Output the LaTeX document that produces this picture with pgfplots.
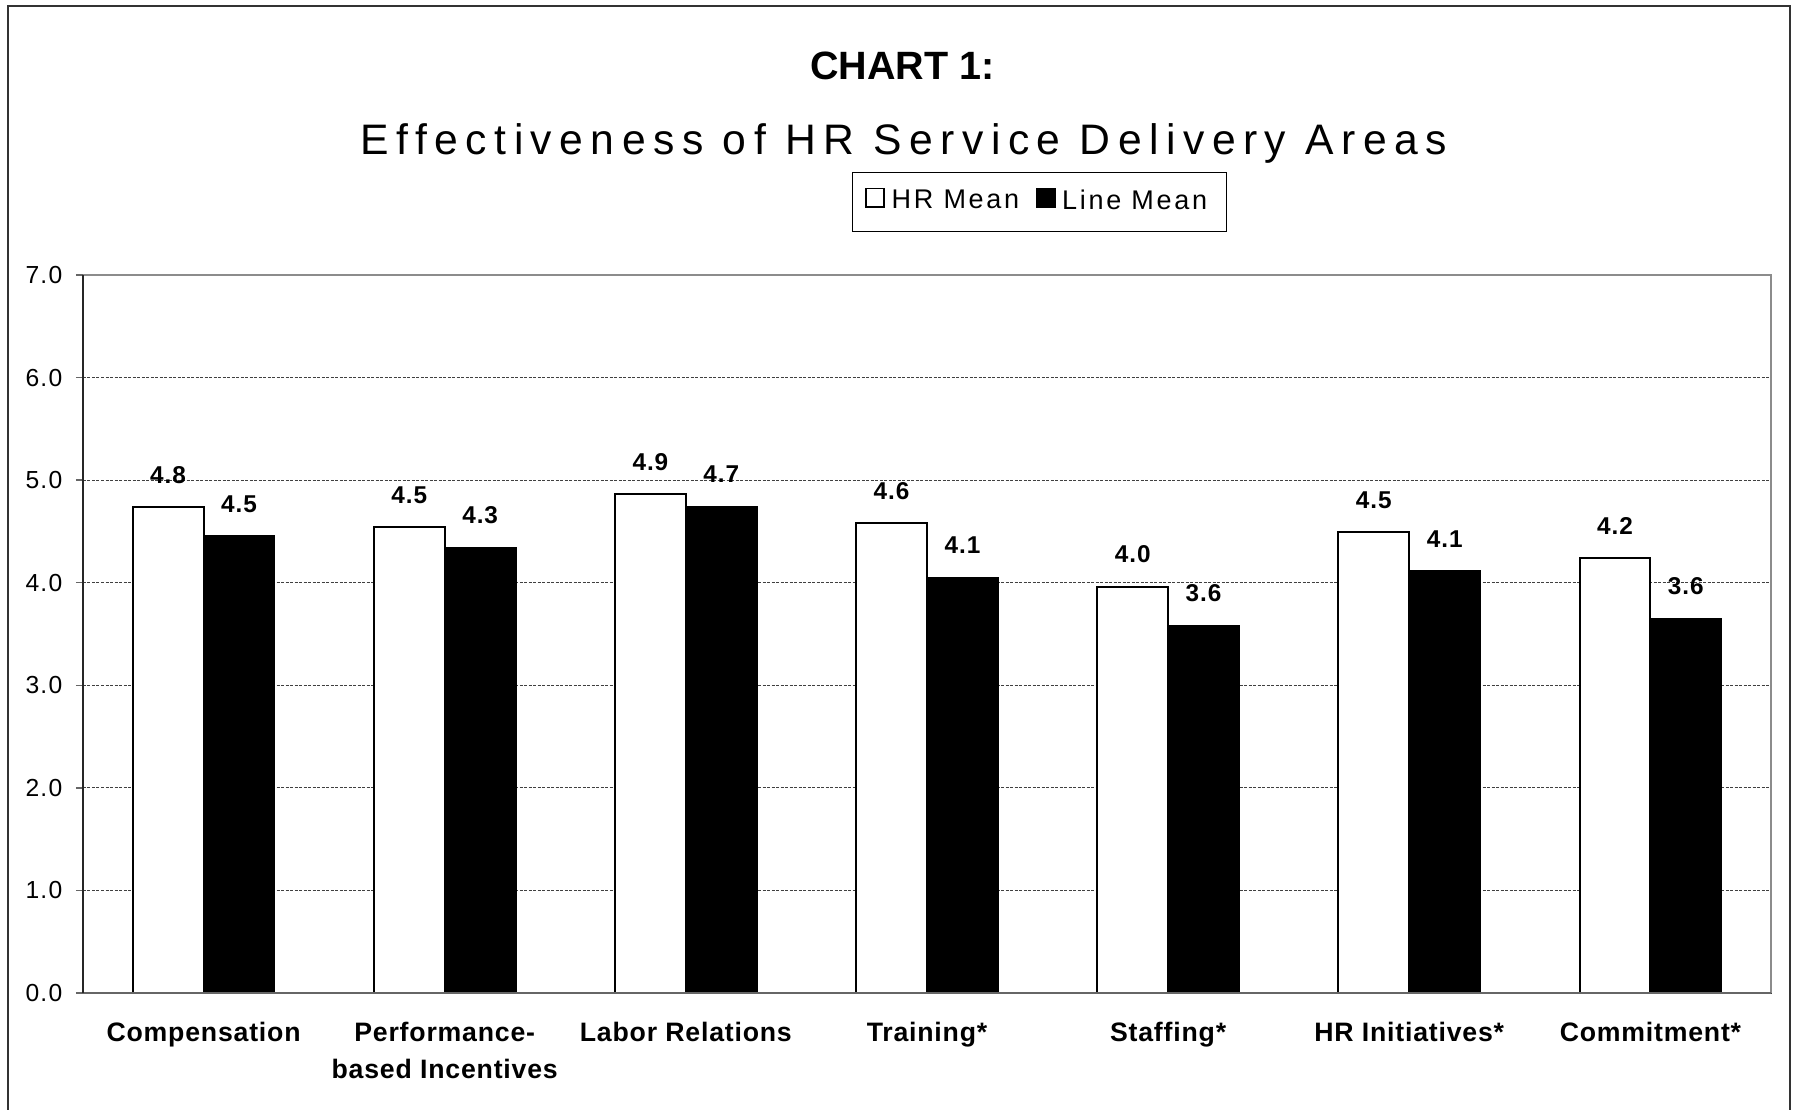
\documentclass[border=0pt]{standalone}
\usepackage{fontspec}
\setmainfont{Liberation Sans}
\newfontfamily\subfont[LetterSpace=17.5]{Liberation Sans}
\newfontfamily\legfont[LetterSpace=10]{Liberation Sans}
\newfontfamily\tickfont[LetterSpace=5]{Liberation Sans}
\newfontfamily\catfont[LetterSpace=3]{Liberation Sans}
\newfontfamily\datafont[LetterSpace=4]{Liberation Sans}
\usepackage{pgfplots}
\pgfplotsset{compat=1.18}
\begin{document}
\begin{tikzpicture}
\useasboundingbox (0,0) rectangle (538.2pt,332.7pt);
\draw[black!80, line width=0.6pt] (2.25pt,-1pt) -- (2.25pt,330.75pt) -- (537pt,330.75pt) -- (537pt,-1pt);
\node[anchor=base, inner sep=0pt, font=\bfseries\fontsize{11.85}{14}\selectfont] at (270.7pt,308.7pt) {CHART 1:};
\node[anchor=base, inner sep=0pt, font=\subfont\fontsize{12.8}{14}\selectfont] at (271.2pt,286.2pt) {Effectiveness of HR Service Delivery Areas};
\begin{axis}[
  at={(24.9pt,34.8pt)}, anchor=south west,
  scale only axis, width=506.4pt, height=215.4pt,
  xmin=-0.5, xmax=6.5, ymin=0, ymax=7,
  ytick={0,1,...,7},
  xtick={0,...,6},
  xticklabels={Compensation,{Performance-\\based Incentives},Labor Relations,Training*,Staffing*,HR Initiatives*,Commitment*},
  yticklabel={\pgfmathprintnumber[fixed,fixed zerofill,precision=1,assume math mode=true]{\tick}},
  axis line style={draw=none},
  tick pos=left, tick align=outside,
  major tick length=2.1pt,
  ytick style={black!60, line width=0.4pt},
  xtick style={draw=none},
  ymajorgrids,
  grid style={black!75, line width=0.3pt, dash pattern=on 0.9pt off 0.45pt},
  yticklabel style={font=\tickfont\fontsize{7.4}{8}\selectfont, inner sep=0pt, xshift=-3.9pt},
  xticklabel style={font=\catfont\bfseries\fontsize{8}{11}\selectfont, align=center, anchor=north, inner sep=0pt, yshift=-6.6pt},
  ybar, bar width=0.294,
  nodes near coords,
  point meta=explicit symbolic,
  every node near coord/.append style={anchor=base, inner sep=0pt, yshift=7.2pt, font=\datafont\bfseries\fontsize{7.3}{8}\selectfont, black},
  legend columns=2,
  legend style={at={(0.5667,1.1017)}, anchor=center, draw=black, line width=0.45pt,
    font=\legfont\fontsize{8.1}{9}\selectfont, inner xsep=3.8pt, inner ysep=3.2pt,
    /tikz/every even column/.append style={column sep=3pt}},
  legend image code/.code={\draw[#1, line width=0.5pt] (0pt,-1.6pt) rectangle (5.4pt,4.0pt);},
  after end axis/.code={
    \draw[black!45, line width=0.6pt] (rel axis cs:0,1) -- (rel axis cs:1,1) -- (rel axis cs:1,0);
    \draw[black!60, line width=0.6pt] (rel axis cs:0,0) -- (rel axis cs:1,0);
    \draw[black!85, line width=0.45pt] (rel axis cs:0,0) -- (rel axis cs:0,1);
  },
]
\addplot[bar shift=0pt, fill=white, draw=black, line width=0.6pt] coordinates {
  (-0.147,4.736) [4.8]
  (0.853,4.54) [4.5]
  (1.853,4.863) [4.9]
  (2.853,4.58) [4.6]
  (3.853,3.96) [4.0]
  (4.853,4.49) [4.5]
  (5.853,4.24) [4.2]
};
\addplot[bar shift=0pt, fill=black, draw=black, line width=0.6pt] coordinates {
  (0.147,4.455) [4.5]
  (1.147,4.34) [4.3]
  (2.147,4.743) [4.7]
  (3.147,4.05) [4.1]
  (4.147,3.58) [3.6]
  (5.147,4.11) [4.1]
  (6.147,3.65) [3.6]
};
\legend{HR Mean,Line Mean}
\end{axis}
\end{tikzpicture}
\end{document}
